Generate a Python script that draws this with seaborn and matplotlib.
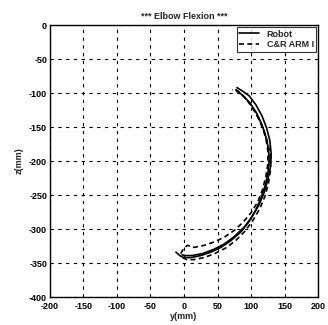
import matplotlib
matplotlib.use("Agg")
import matplotlib.pyplot as plt
import pandas as pd
import seaborn as sns

# ------------------- data

robot1_y = [-12, -5, 0, 10, 25, 40, 55, 70, 85, 97, 107, 115, 121, 125, 127, 126, 122, 116, 108, 98, 87, 78]
robot1_z = [-334, -340, -342, -342, -339, -334, -327, -317, -304, -289, -272, -254, -236, -218, -200, -182, -164, -146, -129, -114, -103, -96]

robot2_y = [-3, 2, 12, 28, 44, 60, 75, 90, 102, 112, 120, 125, 129, 130, 128, 123, 116, 107, 97, 87, 79]
robot2_z = [-338, -339, -339, -336, -330, -322, -311, -297, -281, -264, -245, -227, -208, -190, -170, -151, -133, -117, -104, -97, -92]

arm1_y = [-5, 0, 5, 15, 30, 45, 60, 75, 88, 100, 110, 117, 122, 125, 125, 122, 116, 108, 99, 89, 80, 72]
arm1_z = [-336, -328, -324, -327, -324, -319, -312, -302, -290, -276, -260, -242, -223, -204, -185, -166, -148, -131, -116, -105, -98, -95]

arm2_y = [-2, 4, 14, 30, 46, 62, 77, 91, 103, 113, 121, 126, 129, 129, 125, 119, 111, 101, 91, 83, 76]
arm2_z = [-342, -345, -345, -342, -336, -328, -317, -303, -287, -270, -251, -232, -213, -194, -174, -155, -137, -120, -107, -99, -94]

x_ticks = [-200, -150, -100, -50, 0, 50, 100, 150, 200]
y_ticks = [0, -50, -100, -150, -200, -250, -300, -350, -400]


def make_df(ys, zs, trial, device):
    return pd.DataFrame({"y": ys, "z": zs, "trial": trial, "device": device})


df = pd.concat([
    make_df(robot1_y, robot1_z, 1, "Robot"),
    make_df(robot2_y, robot2_z, 2, "Robot"),
    make_df(arm1_y, arm1_z, 3, "C&R ARM I"),
    make_df(arm2_y, arm2_z, 4, "C&R ARM I"),
], ignore_index=True)

# ------------------- plot

sns.set_style("white")
plt.rcParams["font.family"] = ["Liberation Sans", "DejaVu Sans"]
plt.rcParams["font.weight"] = "bold"
plt.rcParams["axes.unicode_minus"] = False

fig = plt.figure(figsize=(3.28, 3.25), dpi=100)
ax = fig.add_axes([0.152, 0.086, 0.818, 0.837])

sns.lineplot(data=df, x="y", y="z", units="trial", estimator=None, sort=False,
             style="device", style_order=["Robot", "C&R ARM I"],
             dashes={"Robot": "", "C&R ARM I": (3, 2)},
             color="black", linewidth=1.2, ax=ax)

ax.set_xlim(-200, 200)
ax.set_ylim(-400, 0)
ax.set_xticks(x_ticks)
ax.set_yticks(y_ticks)
ax.tick_params(direction="in", length=3, labelsize=6.5, colors="black", pad=2)
ax.tick_params(axis="x", pad=3.5)
for lab in ax.get_xticklabels() + ax.get_yticklabels():
    lab.set_fontweight("bold")
ax.grid(True, color="black", linestyle=(0, (3, 4)), linewidth=0.8)
for sp in ax.spines.values():
    sp.set_color("black")
    sp.set_linewidth(1.0)

ax.set_xlabel("y(mm)", fontsize=6.5, fontweight="bold", labelpad=1)
ax.set_ylabel("z(mm)", fontsize=6.5, fontweight="bold", labelpad=4)
ax.set_title("*** Elbow Flexion ***", fontsize=6.5, fontweight="bold", pad=4)

leg = ax.legend(title=None, loc="upper right", fontsize=6.5, frameon=True,
                fancybox=False, borderaxespad=0.2, handlelength=2.2,
                borderpad=0.3, labelspacing=0.2)
leg.get_frame().set_edgecolor("black")
leg.get_frame().set_linewidth(0.8)
for t in leg.get_texts():
    t.set_fontweight("bold")

fig.savefig("out.png", dpi=100)
